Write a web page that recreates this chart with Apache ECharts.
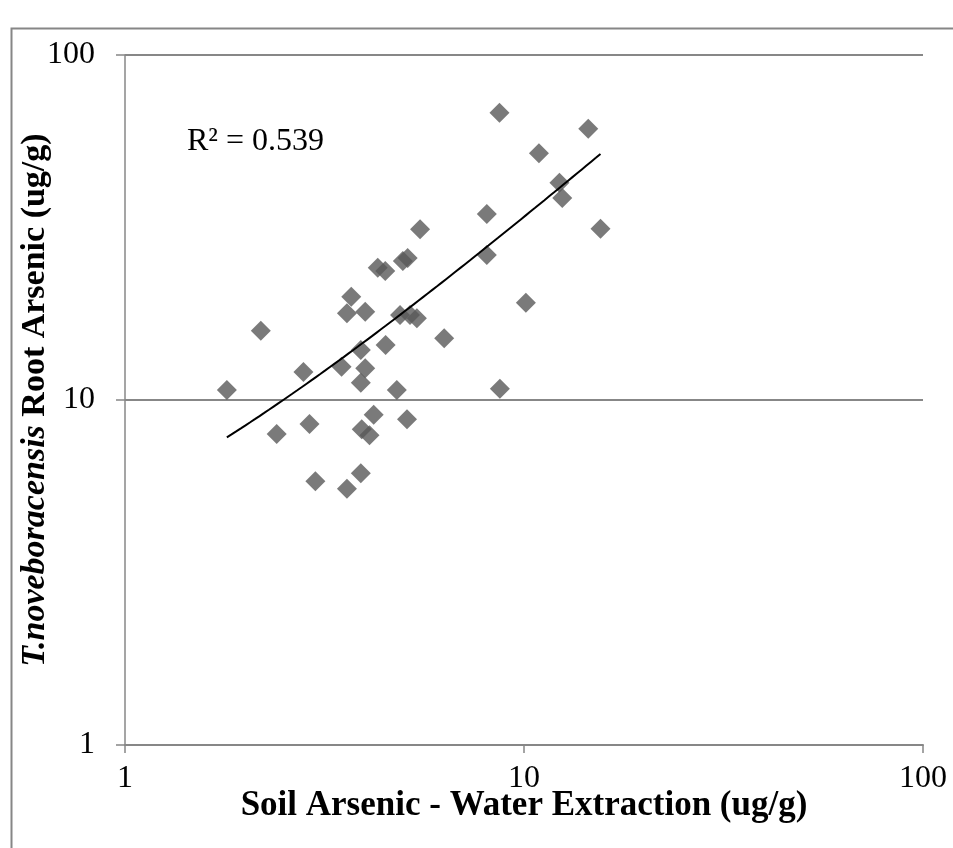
<!DOCTYPE html>
<html>
<head>
<meta charset="utf-8">
<script src="https://cdn.jsdelivr.net/npm/echarts@6/dist/echarts.min.js"></script>
<style>
  html, body { margin: 0; padding: 0; background: #fff; }
  #chart { width: 953px; height: 848px; }
</style>
</head>
<body>
<div id="chart"></div>
<script>
// Soil arsenic (water extraction, ug/g)
var soilAs = [1.80, 2.19, 2.40, 2.80, 2.90, 3.00, 3.60, 3.69, 3.60, 4.00,
              3.49, 3.90, 4.00, 3.90, 4.20, 3.92, 4.10, 3.90, 4.50, 4.80,
              5.09, 4.89, 5.18, 5.39, 6.31, 8.68, 14.49, 10.90, 12.27, 12.47,
              8.07, 15.55, 5.49, 4.97, 5.11, 4.30, 4.49, 8.07, 10.11, 8.70];
// T.noveboracensis root arsenic (ug/g)
var rootAs = [10.69, 15.88, 7.97, 12.05, 8.52, 5.81, 5.53, 19.93, 17.84, 18.03,
              12.49, 13.96, 12.36, 11.22, 9.07, 8.22, 7.90, 6.13, 14.44, 10.69,
              8.79, 17.64, 17.64, 17.25, 15.10, 68.04, 61.13, 51.89, 42.66, 38.50,
              34.60, 31.37, 31.25, 25.28, 25.80, 24.18, 23.65, 26.32, 19.14, 10.78];
var axisTicks = [1, 10, 100];
var r2Label = 'R\u00b2 = 0.539';
var xTitle = 'Soil Arsenic - Water Extraction (ug/g)';
var yTitleItalic = 'T.noveboracensis';
var yTitleRest = 'Root Arsenic (ug/g)';

// Linear least-squares trendline (as drawn by the spreadsheet) computed from the data
var n = soilAs.length, mx = 0, my = 0;
for (var i = 0; i < n; i++) { mx += soilAs[i]; my += rootAs[i]; }
mx /= n; my /= n;
var sxy = 0, sxx = 0;
for (var i = 0; i < n; i++) { sxy += (soilAs[i] - mx) * (rootAs[i] - my); sxx += (soilAs[i] - mx) * (soilAs[i] - mx); }
var slope = sxy / sxx, intercept = my - slope * mx;
var xmin = Math.min.apply(null, soilAs), xmax = Math.max.apply(null, soilAs);
var trend = [];
var steps = 80;
for (var k = 0; k <= steps; k++) {
  var lx = Math.log10(xmin) + (Math.log10(xmax) - Math.log10(xmin)) * k / steps;
  var xv = Math.pow(10, lx);
  trend.push([xv, slope * xv + intercept]);
}

var points = soilAs.map(function (x, i) { return [x, rootAs[i]]; });
var FONT = '"Liberation Serif", "Times New Roman", serif';
var GRID_C = '#878787';

var chart = echarts.init(document.getElementById('chart'), null, { renderer: 'canvas' });
chart.setOption({
  animation: false,
  backgroundColor: '#ffffff',
  grid: { left: 125, right: 30, top: 55, bottom: 103, containLabel: false, outerBoundsMode: 'none' },
  xAxis: {
    type: 'log', logBase: 10, min: axisTicks[0], max: axisTicks[axisTicks.length - 1],
    axisLine: { show: true, onZero: false, lineStyle: { color: GRID_C, width: 2 } },
    axisTick: { show: true, inside: false, length: 8, lineStyle: { color: GRID_C, width: 1.5 } },
    minorTick: { show: false },
    splitLine: { show: false },
    axisLabel: { color: '#000', fontFamily: FONT, fontSize: 32, margin: 18 },
    name: xTitle, nameLocation: 'middle', nameGap: 43, nameMoveOverlap: false,
    nameTextStyle: { color: '#000', fontFamily: FONT, fontSize: 35, fontWeight: 'bold' }
  },
  yAxis: {
    type: 'log', logBase: 10, min: axisTicks[0], max: axisTicks[axisTicks.length - 1],
    axisLine: { show: true, onZero: false, lineStyle: { color: GRID_C, width: 1.5 } },
    axisTick: { show: true, inside: false, length: 9, lineStyle: { color: GRID_C, width: 1.5 } },
    minorTick: { show: false },
    splitLine: { show: true, lineStyle: { color: GRID_C, width: 2 } },
    axisLabel: { color: '#000', fontFamily: FONT, fontSize: 32, margin: 30 },
    name: '{i|' + yTitleItalic + '} {b|' + yTitleRest + '}',
    nameLocation: 'middle', nameGap: 73, nameMoveOverlap: false,
    nameTextStyle: {
      color: '#000', fontFamily: FONT, fontSize: 34, fontWeight: 'bold',
      rich: {
        i: { fontFamily: FONT, fontSize: 34, fontWeight: 'bold', fontStyle: 'italic', color: '#000' },
        b: { fontFamily: FONT, fontSize: 34, fontWeight: 'bold', color: '#000' }
      }
    }
  },
  graphic: [
    { type: 'rect', left: 9, top: 26, shape: { width: 1000, height: 1000 },
      style: { fill: 'none', stroke: '#868686', lineWidth: 2 }, silent: true, z: 100 },
    { type: 'text', left: 187, top: 126,
      style: { text: r2Label, fill: '#000', font: '32px ' + FONT } }
  ],
  series: [
    {
      type: 'scatter', data: points, symbol: 'diamond', symbolSize: 20,
      itemStyle: { color: '#595959' }, z: 2
    },
    {
      type: 'line', data: trend, showSymbol: false, symbol: 'none', smooth: false,
      lineStyle: { color: '#000', width: 2 }, z: 3
    }
  ]
});
</script>
</body>
</html>
